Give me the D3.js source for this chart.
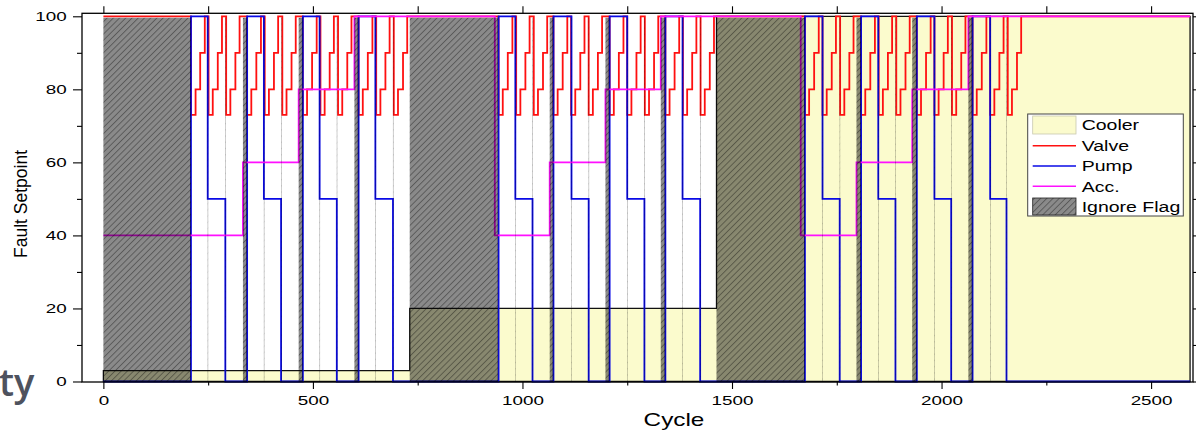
<!DOCTYPE html>
<html><head><meta charset="utf-8">
<script src="https://cdn.jsdelivr.net/npm/d3@7"></script>
<style>body{margin:0;background:#fff}svg{display:block}</style>
</head><body>
<svg id="c" width="1197" height="430"></svg>
<script>
// ---- data (step change points: [cycle, setpoint]) ----
const cooler = [[0,3],[731,20],[1463,100],[2593,100]];
const acc = [[0,40],[333,60],[466,80],[599,100],[934,40],[1065,60],[1198,80],[1330,100],
             [1664,40],[1797,60],[1930,80],[2064,100],[2593,100]];
const pump = [[0,0],[209,100],[249,50],[291,0],[343,100],[383,50],[424,0],[476,100],[516,50],[557,0],
              [609,100],[649,50],[691,0],[943,100],[983,50],[1024,0],[1074,100],[1117,50],[1158,0],
              [1208,100],[1250,50],[1291,0],[1341,100],[1382,50],[1424,0],[1674,100],[1716,50],[1757,0],
              [1808,100],[1849,50],[1890,0],[1941,100],[1983,50],[2023,0],[2074,100],[2116,50],[2155,0],[2593,0]];
const valve = [[0,100],
  [209,73],[220,80],[231,90],[242,100],[251,73],[261,80],[273,90],[283,100],[293,73],[303,80],[315,90],[325,100],
  [343,73],[353,80],[365,90],[376,100],[385,73],[395,80],[407,90],[417,100],[427,73],[437,80],[449,90],[459,100],
  [476,73],[486,80],[498,90],[509,100],[518,73],[528,80],[540,90],[550,100],[560,73],[570,80],[582,90],[592,100],
  [609,73],[619,80],[631,90],[642,100],[651,73],[661,80],[673,90],[683,100],[693,73],[703,80],[715,90],[725,100],
  [943,73],[953,80],[965,90],[976,100],[985,73],[995,80],[1007,90],[1017,100],[1027,73],[1037,80],[1049,90],[1059,100],
  [1074,73],[1084,80],[1096,90],[1107,100],[1116,73],[1126,80],[1138,90],[1148,100],[1158,73],[1168,80],[1180,90],[1190,100],
  [1208,73],[1218,80],[1230,90],[1241,100],[1250,73],[1260,80],[1272,90],[1282,100],[1292,73],[1302,80],[1314,90],[1324,100],
  [1341,73],[1351,80],[1363,90],[1374,100],[1383,73],[1393,80],[1405,90],[1415,100],[1425,73],[1435,80],[1447,90],[1457,100],
  [1674,73],[1684,80],[1696,90],[1707,100],[1716,73],[1726,80],[1738,90],[1748,100],[1758,73],[1768,80],[1780,90],[1790,100],
  [1808,73],[1818,80],[1830,90],[1841,100],[1850,73],[1860,80],[1872,90],[1882,100],[1892,73],[1902,80],[1914,90],[1924,100],
  [1941,73],[1951,80],[1963,90],[1974,100],[1983,73],[1993,80],[2005,90],[2015,100],[2025,73],[2035,80],[2047,90],[2057,100],
  [2074,73],[2084,80],[2096,90],[2107,100],[2116,73],[2126,80],[2138,90],[2148,100],[2158,73],[2168,80],[2180,90],[2190,100],
  [2593,100]];
const ignoreFlag = [[0,209],[333,343],[466,476],[599,609],[731,942],[1065,1074],[1198,1208],[1330,1341],
                    [1463,1674],[1797,1808],[1930,1941],[2064,2074]];
const ignoreBlips = [249,291,383,424,516,557,649,691,983,1024,1117,1158,1250,1291,1382,1424,
                     1716,1757,1849,1890,1983,2023,2116,2155];
const xTicks = [0,500,1000,1500,2000,2500];
const xMinorTicks = [250,750,1250,1750,2250];
const topTicks = [0,250,500,750,1000,1250,1500,1750,2000,2250,2500];
const yTicks = [0,20,40,60,80,100];
const yMinorTicks = [10,30,50,70,90];
const rightTicks = [0,10,20,30,40,50,60,70,80,90,100];
const legendLabels = ["Cooler","Valve","Pump","Acc.","Ignore Flag"];
const xTitle = "Cycle", yTitle = "Fault Setpoint";

// ---- layout ----
const FONT = "'Liberation Sans', Arial, sans-serif";
const L = 82, R = 1193, T = 13.3, B = 382;
const x = d3.scaleLinear().domain([-51, 2600]).range([L, R]);
const y = d3.scaleLinear().domain([-0.14, 100.82]).range([B, T]);
const svg = d3.select("#c");
const defs = svg.append("defs");
const pat = defs.append("pattern").attr("id","hatch").attr("patternUnits","userSpaceOnUse")
  .attr("width",4.4).attr("height",4.4).attr("patternTransform","rotate(45)");
pat.append("rect").attr("width",4.4).attr("height",4.4).attr("fill","rgba(0,0,0,0.46)");
pat.append("line").attr("x1",0.5).attr("y1",0).attr("x2",0.5).attr("y2",4.4)
  .attr("stroke","rgba(0,0,0,0.42)").attr("stroke-width",0.8);

function stretch(sel, sx){
  sel.each(function(){ const t=d3.select(this); const xv=+t.attr("x")||0;
    t.attr("x", xv/sx).attr("transform", `scale(${sx},1)`); });
}

// cooler area
const area = d3.area().x(d=>x(d[0])).y0(y(0)).y1(d=>y(d[1])).curve(d3.curveStepAfter);
svg.append("path").datum(cooler).attr("d",area).attr("fill","#fbfbcd")
  .attr("stroke","#111").attr("stroke-width",1.3);

const line = d3.line().x(d=>x(d[0])).y(d=>y(d[1])).curve(d3.curveStepAfter);
svg.append("path").datum(valve).attr("d",line).attr("fill","none").attr("stroke","#ff1010").attr("stroke-width",1.8);
svg.append("path").datum(pump).attr("d",line).attr("fill","none").attr("stroke","#0a0ae6").attr("stroke-width",1.8);
svg.append("path").datum(acc).attr("d",line).attr("fill","none").attr("stroke","#ff10ff").attr("stroke-width",1.8);

// ignore flag overlay
svg.append("g").selectAll("rect").data(ignoreFlag).join("rect")
  .attr("x",d=>x(d[0])).attr("width",d=>x(d[1])-x(d[0]))
  .attr("y",y(99.6)).attr("height",B-y(99.6)).attr("fill","url(#hatch)");
svg.append("g").selectAll("rect").data(ignoreBlips).join("rect")
  .attr("x",d=>x(d)).attr("width",d=>x(d+1)-x(d))
  .attr("y",y(99.6)).attr("height",B-y(99.6)).attr("fill","url(#hatch)");

// axes
const gl = svg.append("g").attr("transform",`translate(${L},0)`)
  .call(d3.axisLeft(y).tickValues(yTicks).tickSize(9).tickPadding(6.3).tickFormat(d3.format("d")));
gl.selectAll("text").attr("font-family",FONT).attr("font-size",13).attr("fill","#000").call(stretch,1.45);
svg.append("g").attr("transform",`translate(${L},0)`)
  .call(d3.axisLeft(y).tickValues(yMinorTicks).tickSize(5).tickFormat(""));
const gb = svg.append("g").attr("transform",`translate(0,${B})`)
  .call(d3.axisBottom(x).tickValues(xTicks).tickSize(7).tickFormat(d3.format("d")));
gb.selectAll("text").attr("y",22.7).attr("dy",null).attr("font-family",FONT).attr("font-size",13).attr("fill","#000").call(stretch,1.45);
svg.append("g").attr("transform",`translate(0,${B})`)
  .call(d3.axisBottom(x).tickValues(xMinorTicks).tickSize(3.5).tickFormat(""));
svg.append("g").attr("transform",`translate(0,${T})`)
  .call(d3.axisTop(x).tickValues(topTicks).tickSize(7).tickFormat(""));
svg.append("g").attr("transform",`translate(${R},0)`)
  .call(d3.axisRight(y).tickValues(rightTicks).tickSize(3).tickFormat(""));
svg.selectAll(".domain").remove();
svg.selectAll(".tick line").attr("stroke","#000").attr("stroke-width",1.1);
svg.append("rect").attr("x",L).attr("y",T).attr("width",R-L).attr("height",B-T)
  .attr("fill","none").attr("stroke","#000").attr("stroke-width",1.3);

// titles
svg.append("text").attr("x",674/1.35).attr("y",426.5).attr("transform","scale(1.35,1)")
  .attr("text-anchor","middle").attr("font-family",FONT).attr("font-size",18).text(xTitle);
svg.append("text").attr("transform","translate(27,204) rotate(-90)")
  .attr("text-anchor","middle").attr("font-family",FONT).attr("font-size",17.5).text(yTitle);
svg.append("text").attr("x",-1).attr("y",396).attr("font-family","'Open Sans', sans-serif")
  .attr("font-size",38).attr("font-weight",600).attr("fill","#4e525e").text("ty");

// legend
const lg = svg.append("g");
lg.append("rect").attr("x",1027.7).attr("y",114).attr("width",155.6).attr("height",102)
  .attr("fill","#fff").attr("stroke","#444").attr("stroke-width",1);
const rowY = [125, 145.7, 166, 186.3, 206.5];
const lineColors = [null,"#ff1010","#0a0ae6","#ff10ff",null];
legendLabels.forEach((lab,i)=>{
  const cy = rowY[i];
  if(i===0){
    lg.append("rect").attr("x",1032.7).attr("y",cy-9).attr("width",43.3).attr("height",18)
      .attr("fill","#fbfbcd").attr("stroke","#c8c8b0").attr("stroke-width",0.8);
  } else if(i===4){
    lg.append("rect").attr("x",1032.7).attr("y",cy-8.5).attr("width",43.3).attr("height",17)
      .attr("fill","url(#hatch)").attr("stroke","#222").attr("stroke-width",0.8);
  } else {
    lg.append("line").attr("x1",1032.7).attr("x2",1076).attr("y1",cy).attr("y2",cy)
      .attr("stroke",lineColors[i]).attr("stroke-width",1.6);
  }
  lg.append("text").attr("x",1081.7/1.3).attr("y",cy+5.4).attr("transform","scale(1.3,1)")
    .attr("font-family",FONT).attr("font-size",15).attr("fill","#000").text(lab);
});
</script>
</body></html>
